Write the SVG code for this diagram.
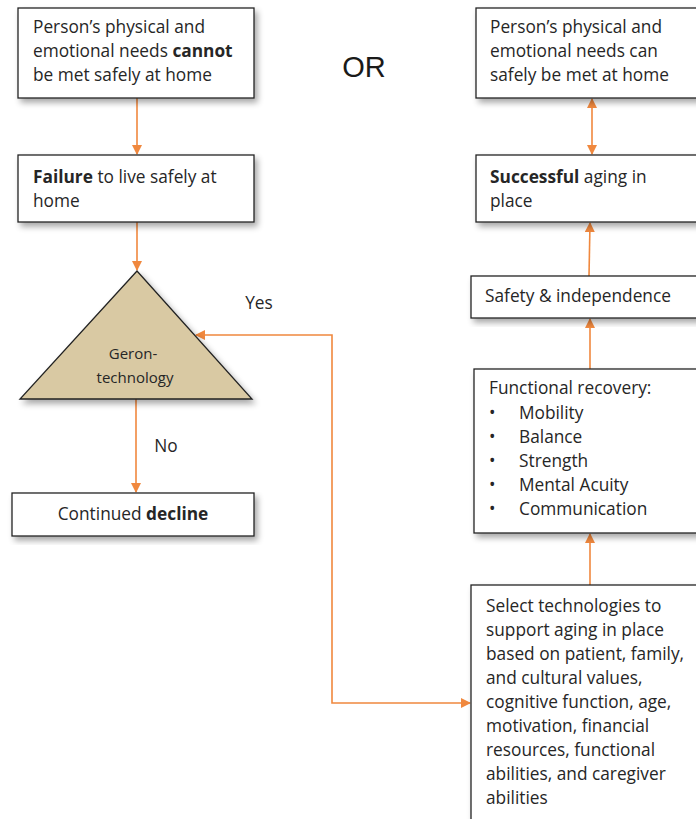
<svg xmlns="http://www.w3.org/2000/svg" width="696" height="819" viewBox="0 0 696 819">
<defs>
<filter id="sh" x="-10%" y="-10%" width="130%" height="130%">
<feGaussianBlur in="SourceAlpha" stdDeviation="3"/>
<feOffset dx="3" dy="4" result="b"/>
<feComponentTransfer><feFuncA type="linear" slope="0.35"/></feComponentTransfer>
<feMerge><feMergeNode/><feMergeNode in="SourceGraphic"/></feMerge>
</filter>
<marker id="ah" viewBox="0 0 10 10" refX="9" refY="5" markerWidth="10" markerHeight="10" markerUnits="userSpaceOnUse" orient="auto-start-reverse">
<path d="M0,0 L10,5 L0,10 z" fill="#F0883E"/>
</marker>
</defs>
<style>
.box{fill:#fff;stroke:#222;stroke-width:1.3;filter:url(#sh)}
.t{font-family:"Open Sans","Liberation Sans",Arial,sans-serif;font-size:17.3px;fill:#262626}
.b{font-weight:bold}
.c{fill:none;stroke:#F0883E;stroke-width:1.6}
</style>
<rect width="696" height="819" fill="#fff"/>

<g id="connectors">
<line class="c" x1="137" y1="98" x2="137" y2="154" marker-end="url(#ah)"/>
<line class="c" x1="137" y1="222" x2="137" y2="270" marker-end="url(#ah)"/>
<line class="c" x1="136" y1="399" x2="136" y2="492" marker-end="url(#ah)"/>
<polyline class="c" points="470,703 332,703 332,335 196,335" marker-start="url(#ah)" marker-end="url(#ah)"/>
<line class="c" x1="592" y1="99" x2="592" y2="154" marker-start="url(#ah)" marker-end="url(#ah)"/>
<line class="c" x1="589" y1="276" x2="590" y2="223" marker-end="url(#ah)"/>
<line class="c" x1="590" y1="369" x2="590" y2="319" marker-end="url(#ah)"/>
<line class="c" x1="590" y1="585" x2="590" y2="534" marker-end="url(#ah)"/>
</g>

<g id="n-cannot">
<rect class="box" x="18" y="8" width="236" height="90"/>
<text class="t" x="33" y="33">Person’s physical and</text>
<text class="t" x="33" y="57">emotional needs <tspan class="b">cannot</tspan></text>
<text class="t" x="33" y="81">be met safely at home</text>
</g>

<g id="n-or">
<text x="364" y="77" text-anchor="middle" style="font-family:'Liberation Sans',Arial,sans-serif;font-size:29px;fill:#1a1a1a">OR</text>
</g>

<g id="n-failure">
<rect class="box" x="18" y="155" width="236" height="67"/>
<text class="t" x="33" y="183"><tspan class="b">Failure</tspan> to live safely at</text>
<text class="t" x="33" y="207">home</text>
</g>

<g id="n-geron">
<polygon points="137,271 20,399 252,399" fill="#D9C9A3" stroke="#222" stroke-width="1.3" filter="url(#sh)"/>
<text class="t" x="133" y="359" text-anchor="middle" style="font-size:15px">Geron-</text>
<text class="t" x="135" y="383" text-anchor="middle" style="font-size:15px">technology</text>
</g>

<g id="lbl-yes"><text class="t" x="259" y="309" text-anchor="middle">Yes</text></g>
<g id="lbl-no"><text class="t" x="166" y="452" text-anchor="middle">No</text></g>

<g id="n-decline">
<rect class="box" x="12" y="493" width="242" height="43"/>
<text class="t" x="133" y="520" text-anchor="middle">Continued <tspan class="b">decline</tspan></text>
</g>

<g id="n-can">
<rect class="box" x="476" y="8" width="226" height="90"/>
<text class="t" x="490" y="33">Person’s physical and</text>
<text class="t" x="490" y="57">emotional needs can</text>
<text class="t" x="490" y="81">safely be met at home</text>
</g>

<g id="n-success">
<rect class="box" x="476" y="155" width="226" height="67"/>
<text class="t" x="490" y="183"><tspan class="b">Successful</tspan> aging in</text>
<text class="t" x="490" y="207">place</text>
</g>

<g id="n-safety">
<rect class="box" x="471" y="276" width="231" height="42"/>
<text class="t" x="485" y="302">Safety &amp; independence</text>
</g>

<g id="n-functional">
<rect class="box" x="474" y="369" width="228" height="164"/>
<text class="t" x="489" y="394">Functional recovery:</text>
<text class="t" x="489" y="419">•</text><text class="t" x="519" y="419">Mobility</text>
<text class="t" x="489" y="443">•</text><text class="t" x="519" y="443">Balance</text>
<text class="t" x="489" y="467">•</text><text class="t" x="519" y="467">Strength</text>
<text class="t" x="489" y="491">•</text><text class="t" x="519" y="491">Mental Acuity</text>
<text class="t" x="489" y="515">•</text><text class="t" x="519" y="515">Communication</text>
</g>

<g id="n-select">
<rect class="box" x="471" y="585" width="231" height="240"/>
<text class="t" x="486" y="612">Select technologies to</text>
<text class="t" x="486" y="636">support aging in place</text>
<text class="t" x="486" y="660">based on patient, family,</text>
<text class="t" x="486" y="684">and cultural values,</text>
<text class="t" x="486" y="708">cognitive function, age,</text>
<text class="t" x="486" y="732">motivation, financial</text>
<text class="t" x="486" y="756">resources, functional</text>
<text class="t" x="486" y="780">abilities, and caregiver</text>
<text class="t" x="486" y="804">abilities</text>
</g>
</svg>
